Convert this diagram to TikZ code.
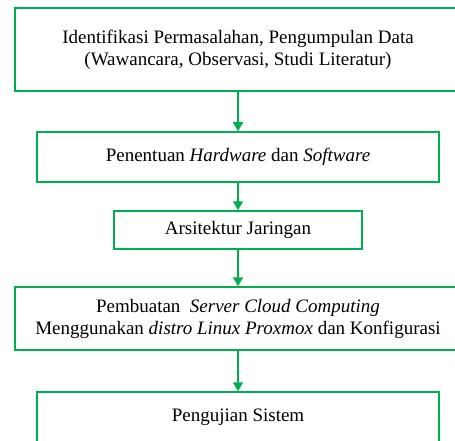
\documentclass[tikz,border=0pt]{standalone}
\usepackage{fontspec}
\setmainfont{Liberation Serif}
\usetikzlibrary{arrows.meta}
\definecolor{flowgreen}{RGB}{0,176,80}
\begin{document}
\begin{tikzpicture}[x=1pt, y=-1pt,
  stepbox/.style={draw=flowgreen, line width=1.5pt, align=center, inner sep=0pt,
    font=\rmfamily\fontsize{19}{22}\selectfont},
  flow/.style={-{Triangle[width=10pt,length=9pt]}, draw=flowgreen, line width=1.5pt}]
\useasboundingbox (0,0) rectangle (455,441);
\node[stepbox, minimum width=446pt, minimum height=83pt] (ident) at (238,49.5)
  {Identifikasi Permasalahan, Pengumpulan Data\\(Wawancara, Observasi, Studi Literatur)};
\node[stepbox, minimum width=402pt, minimum height=50pt] (hw) at (238,157)
  {Penentuan \textit{Hardware} dan \textit{Software}};
\node[stepbox, minimum width=248pt, minimum height=38pt] (arsi) at (238,230)
  {Arsitektur Jaringan};
\node[stepbox, minimum width=446pt, minimum height=63pt] (cloud) at (238,318.5)
  {Pembuatan \ \textit{Server Cloud Computing}\\Menggunakan \textit{distro Linux Proxmox} dan Konfigurasi};
\node[stepbox, minimum width=402pt, minimum height=50pt] (uji) at (238,417)
  {Pengujian Sistem};
\draw[flow] (ident) -- (hw);
\draw[flow] (hw) -- (arsi);
\draw[flow] (arsi) -- (cloud);
\draw[flow] (cloud) -- (uji);
\end{tikzpicture}
\end{document}
